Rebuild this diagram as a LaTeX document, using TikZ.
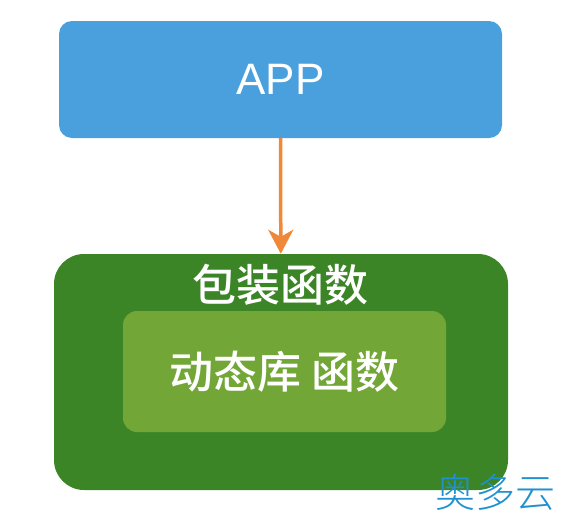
\documentclass[tikz,border=0pt]{standalone}
\usepackage{fontspec}
\setmainfont{Liberation Sans}
\newfontfamily\cjk{Noto Sans CJK SC Medium}
\newfontfamily\cjklight{Noto Sans CJK SC Light}
\usepackage{xcolor}
\definecolor{appblue}{HTML}{4AA0DC}
\definecolor{wrapgreen}{HTML}{3C8527}
\definecolor{libgreen}{HTML}{72A637}
\definecolor{arroworange}{HTML}{F0883A}
\definecolor{markblue}{HTML}{2090D0}
\usepackage{tikz}
\usetikzlibrary{
    arrows.meta,
    positioning
}

\begin{document}
\begin{tikzpicture}[
  x=1pt, y=-1pt,
  box/.style={draw=none, text=white, inner sep=0pt},
  arrow/.style={-{Stealth[length=24pt, width=25pt, inset=7pt]}, line width=3.5pt, arroworange},
  align=center
]

\useasboundingbox (0,0) rectangle (564,520);

\node (app)  [box, fill=appblue, rounded corners=13pt, minimum width=443pt, minimum height=117pt]
  at (280.5,79.5) {\fontsize{44}{44}\selectfont APP};
\node (wrap) [box, fill=wrapgreen, rounded corners=30pt, minimum width=454pt, minimum height=236pt]
  at (281,372) {};
\node (wraplabel) [box] at (280,285) {\cjk\fontsize{44}{44}\selectfont 包装函数};
\node (lib)  [box, fill=libgreen, rounded corners=14pt, minimum width=323pt, minimum height=121pt]
  at (284.5,371.5) {\cjk\fontsize{44}{44}\selectfont 动态库 函数};
\node (mark) [inner sep=0pt, text=markblue] at (495,492) {\cjklight\fontsize{40}{40}\selectfont 奥多云};

\draw[arrow] (app) -- (wrap);

\end{tikzpicture}
\end{document}
